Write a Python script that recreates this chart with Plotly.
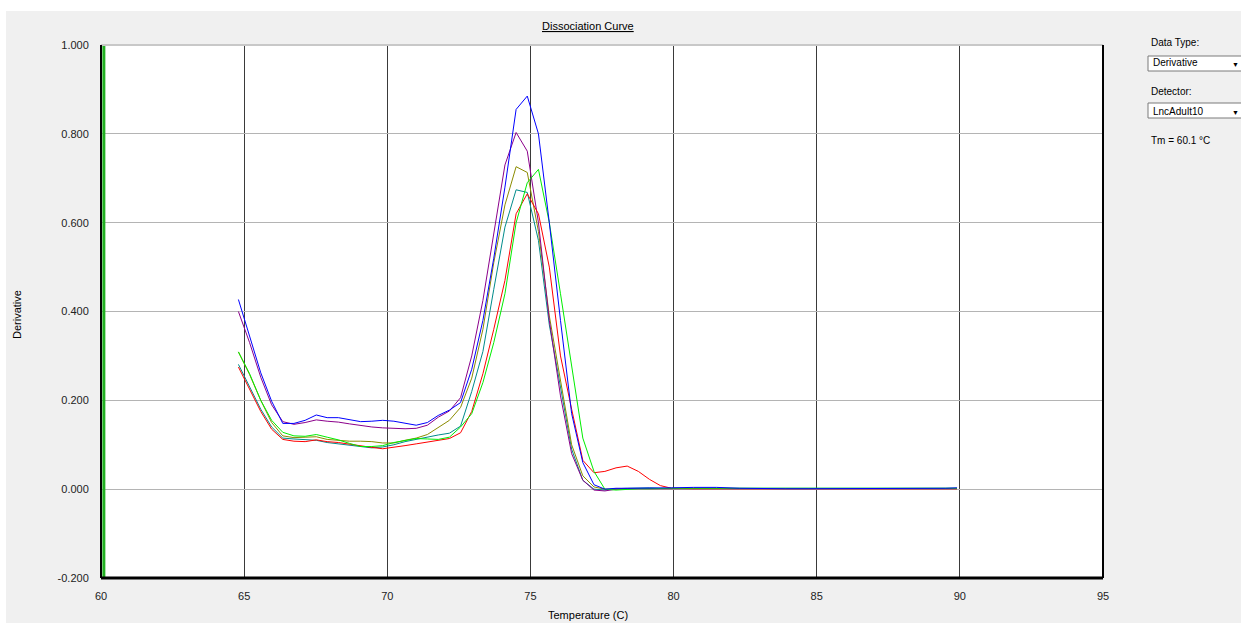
import plotly.graph_objects as go

# ---- data ----
temperature = [64.80, 65.19, 65.58, 65.96, 66.35, 66.74, 67.13, 67.52, 67.90, 68.29,
               68.68, 69.07, 69.46, 69.84, 70.23, 70.62, 71.01, 71.40, 71.78, 72.17,
               72.56, 72.95, 73.34, 73.72, 74.11, 74.50, 74.89, 75.28, 75.66, 76.05,
               76.44, 76.83, 77.22, 77.60, 77.99, 78.38, 78.77, 79.16, 79.54, 79.93,
               80.70, 81.50, 82.30, 83.10, 83.90, 84.70, 85.50, 86.30, 87.10, 87.90,
               88.70, 89.50, 89.90]

teal = [0.281, 0.230, 0.180, 0.140, 0.115, 0.113, 0.112, 0.110, 0.105, 0.102,
        0.100, 0.097, 0.093, 0.095, 0.100, 0.107, 0.112, 0.118, 0.122, 0.126,
        0.142, 0.220, 0.310, 0.450, 0.590, 0.674, 0.668, 0.560, 0.370, 0.230,
        0.090, 0.020, 0.000, -0.002, 0.001, 0.002, 0.003, 0.003, 0.002, 0.002,
        0.002, 0.002, 0.001, 0.001, 0.001, 0.001, 0.001, 0.001, 0.001, 0.001,
        0.001, 0.001, 0.002]
olive = [0.309, 0.258, 0.200, 0.150, 0.120, 0.116, 0.117, 0.118, 0.112, 0.110,
         0.108, 0.108, 0.107, 0.104, 0.104, 0.110, 0.115, 0.123, 0.138, 0.155,
         0.184, 0.250, 0.360, 0.510, 0.640, 0.726, 0.713, 0.580, 0.390, 0.240,
         0.100, 0.030, 0.005, 0.000, 0.001, 0.001, 0.001, 0.001, 0.001, 0.001,
         0.001, 0.002, 0.002, 0.001, 0.001, 0.001, 0.001, 0.001, 0.001, 0.001,
         0.001, 0.001, 0.001]
purple = [0.400, 0.330, 0.252, 0.190, 0.152, 0.146, 0.150, 0.156, 0.153, 0.151,
          0.147, 0.143, 0.140, 0.138, 0.137, 0.136, 0.137, 0.144, 0.162, 0.176,
          0.206, 0.300, 0.425, 0.580, 0.730, 0.803, 0.761, 0.600, 0.380, 0.210,
          0.080, 0.020, -0.002, -0.004, 0.000, 0.001, 0.001, 0.001, 0.001, 0.001,
          0.001, 0.002, 0.002, 0.001, 0.001, 0.001, 0.001, 0.001, 0.001, 0.001,
          0.001, 0.001, 0.001]
red = [0.275, 0.225, 0.175, 0.135, 0.112, 0.108, 0.107, 0.111, 0.107, 0.105,
       0.101, 0.097, 0.094, 0.091, 0.094, 0.098, 0.102, 0.106, 0.110, 0.114,
       0.127, 0.175, 0.260, 0.360, 0.470, 0.620, 0.665, 0.620, 0.500, 0.300,
       0.180, 0.065, 0.037, 0.040, 0.048, 0.052, 0.040, 0.022, 0.008, 0.002,
       0.001, 0.001, 0.001, 0.001, 0.001, 0.001, 0.001, 0.001, 0.001, 0.001,
       0.001, 0.001, 0.001]
green = [0.309, 0.260, 0.200, 0.155, 0.128, 0.120, 0.119, 0.123, 0.117, 0.111,
         0.103, 0.096, 0.096, 0.098, 0.105, 0.110, 0.114, 0.113, 0.112, 0.117,
         0.140, 0.170, 0.240, 0.330, 0.440, 0.600, 0.690, 0.720, 0.600, 0.440,
         0.280, 0.115, 0.040, 0.000, -0.002, 0.000, 0.001, 0.001, 0.002, 0.002,
         0.002, 0.002, 0.002, 0.002, 0.001, 0.001, 0.001, 0.001, 0.001, 0.001,
         0.001, 0.001, 0.002]
blue = [0.427, 0.345, 0.262, 0.198, 0.148, 0.148, 0.155, 0.167, 0.161, 0.161,
        0.157, 0.152, 0.153, 0.155, 0.153, 0.148, 0.144, 0.150, 0.166, 0.178,
        0.195, 0.270, 0.380, 0.520, 0.680, 0.855, 0.885, 0.800, 0.600, 0.380,
        0.170, 0.060, 0.010, 0.000, 0.002, 0.002, 0.002, 0.002, 0.003, 0.003,
        0.004, 0.004, 0.002, 0.001, 0.001, 0.001, 0.001, 0.001, 0.001, 0.001,
        0.001, 0.002, 0.003]

series_names = ["Well 1", "Well 2", "Well 3", "Well 4", "Well 5", "Well 6"]
series_values = [teal, olive, purple, red, green, blue]
series_colors = ["#008b8b", "#8b8b00", "#8b008b", "#ff0000", "#00ee00", "#0000ff"]

x_ticks = [60, 65, 70, 75, 80, 85, 90, 95]
x_ticklabels = ["60", "65", "70", "75", "80", "85", "90", "95"]
y_ticks = [-0.2, 0.0, 0.2, 0.4, 0.6, 0.8, 1.0]
y_ticklabels = ["-0.200", "0.000", "0.200", "0.400", "0.600", "0.800", "1.000"]
tm_value = 60.1

FONT = "Liberation Sans, Arial, sans-serif"

fig = go.Figure()
for name, vals, col in zip(series_names, series_values, series_colors):
    fig.add_trace(go.Scatter(x=temperature, y=vals, mode="lines", name=name,
                             line=dict(color=col, width=1), showlegend=False,
                             hoverinfo="x+y"))

W, H = 1241, 623
L, R, T, B = 101, 138, 45, 45
pw, ph = W - L - R, H - T - B


def px(xp):
    return (xp - L) / pw


def py(yp):
    return (H - B - yp) / ph


shapes = []
# white strips at the top and left edges of the window
shapes.append(dict(type="rect", xref="paper", yref="paper", x0=px(-5), x1=px(W + 5),
                   y0=py(11), y1=py(-5), fillcolor="white", line=dict(width=0), layer="above"))
shapes.append(dict(type="rect", xref="paper", yref="paper", x0=px(-5), x1=px(6),
                   y0=py(H + 5), y1=py(-5), fillcolor="white", line=dict(width=0), layer="above"))
# Tm marker
shapes.append(dict(type="line", xref="x", yref="paper", x0=tm_value, x1=tm_value, y0=0, y1=1,
                   line=dict(color="#22b022", width=3), layer="above"))
# borders
shapes.append(dict(type="line", xref="paper", yref="paper", x0=0, x1=1, y0=1, y1=1,
                   line=dict(color="#c8c8c8", width=2), layer="above"))
shapes.append(dict(type="line", xref="paper", yref="paper", x0=0, x1=0, y0=0, y1=1,
                   line=dict(color="black", width=2), layer="above"))
shapes.append(dict(type="line", xref="paper", yref="paper", x0=1, x1=1, y0=0, y1=1,
                   line=dict(color="black", width=2), layer="above"))
shapes.append(dict(type="line", xref="paper", yref="paper", x0=0, x1=1, y0=0, y1=0,
                   line=dict(color="black", width=3), layer="above"))
# dropdown boxes on the right panel
for (y0p, y1p) in [(56, 71), (103, 118)]:
    shapes.append(dict(type="rect", xref="paper", yref="paper", x0=px(1148), x1=px(W + 10),
                       y0=py(y1p), y1=py(y0p), fillcolor="white",
                       line=dict(color="#7a7a7a", width=1), layer="above"))

annotations = []
annotations.append(dict(text="<u>Dissociation Curve</u>", xref="paper", yref="paper",
                        x=px(588), y=py(26), showarrow=False,
                        font=dict(family=FONT, size=11, color="black"),
                        xanchor="center", yanchor="middle"))
annotations.append(dict(text="Derivative", xref="paper", yref="paper", x=px(17), y=py(315),
                        showarrow=False, textangle=-90,
                        font=dict(family=FONT, size=11, color="black"),
                        xanchor="center", yanchor="middle"))
annotations.append(dict(text="Temperature (C)", xref="paper", yref="paper", x=px(588), y=py(615),
                        showarrow=False, font=dict(family=FONT, size=11, color="black"),
                        xanchor="center", yanchor="middle"))
panel = [("Data Type:", 1149, 42), ("Derivative", 1151, 63), ("Detector:", 1149, 91),
         ("LncAdult10", 1151, 111), ("Tm = 60.1 °C", 1149, 140)]
for txt, xx, yy in panel:
    annotations.append(dict(text=txt, xref="paper", yref="paper", x=px(xx), y=py(yy),
                            showarrow=False, font=dict(family=FONT, size=10, color="black"),
                            xanchor="left", yanchor="middle"))
for yy in [63, 111]:
    annotations.append(dict(text="▼", xref="paper", yref="paper", x=px(1235), y=py(yy + 1),
                            showarrow=False, font=dict(family=FONT, size=7, color="black"),
                            xanchor="center", yanchor="middle"))

fig.update_layout(
    width=W, height=H, autosize=False,
    margin=dict(l=L, r=R, t=T, b=B, pad=0),
    paper_bgcolor="#f0f0f0", plot_bgcolor="white",
    font=dict(family=FONT, size=11, color="black"),
    shapes=shapes, annotations=annotations,
    xaxis=dict(range=[60, 95], tickvals=x_ticks, ticktext=x_ticklabels,
               showgrid=True, gridcolor="#3a3a3a", gridwidth=1, zeroline=False,
               showline=False, ticks="outside", ticklen=8, tickcolor="rgba(0,0,0,0)",
               tickfont=dict(family=FONT, size=11, color="#222")),
    yaxis=dict(range=[-0.2, 1.0], tickvals=y_ticks, ticktext=y_ticklabels,
               showgrid=True, gridcolor="#b4b4b4", gridwidth=1, zeroline=False,
               showline=False, ticks="outside", ticklen=9, tickcolor="rgba(0,0,0,0)",
               tickfont=dict(family=FONT, size=11, color="#222")),
)

fig.write_html("out.html", config={"displayModeBar": False},
               post_script="document.body.style.margin='0';document.body.style.overflow='hidden';")
